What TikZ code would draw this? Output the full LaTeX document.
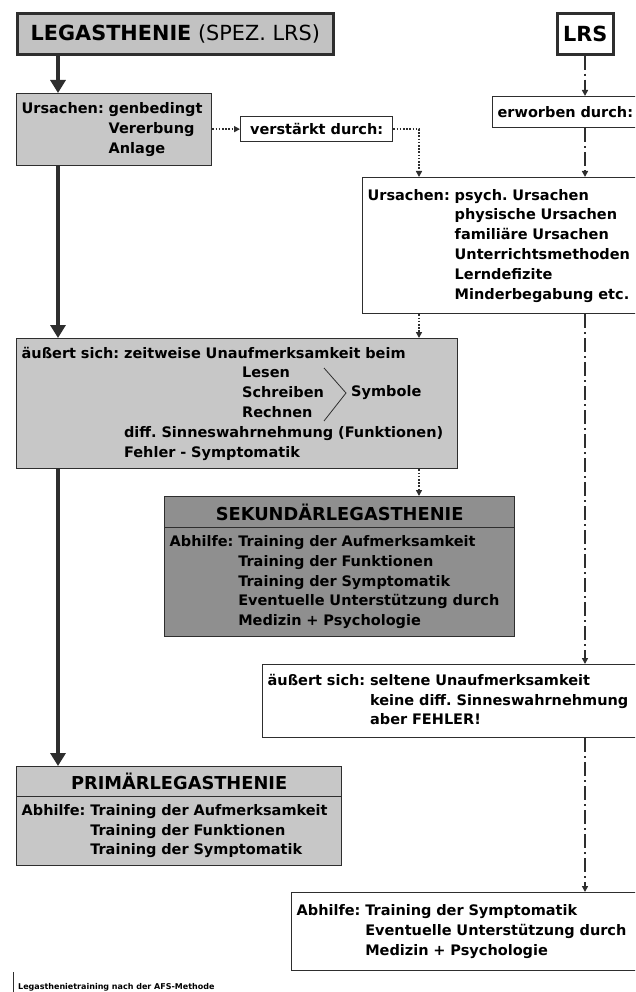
\documentclass[tikz,border=0pt]{standalone}
\usepackage{fontspec}
\setmainfont{DejaVu Sans}
\usetikzlibrary{arrows.meta,calc}
\definecolor{lightbox}{gray}{0.78}
\definecolor{titlebox}{gray}{0.76}
\definecolor{darkbox}{gray}{0.56}
\definecolor{rim}{gray}{0.18}
\newcommand{\bodyfont}{\fontsize{14.5}{19.8}\selectfont\bfseries}
\newcommand{\headfont}{\fontsize{17.8}{21}\selectfont\bfseries}
\newcommand{\titlefont}{\fontsize{20.8}{24}\selectfont}
\newcommand{\footfont}{\fontsize{8}{9}\selectfont\bfseries}
\frenchspacing
\begin{document}
\begin{tikzpicture}[x=1pt,y=-1pt,
  box/.style={draw=rim,line width=1.3pt,anchor=north west,inner xsep=5pt,inner ysep=0pt,align=left,font=\bodyfont},
  greybox/.style={box,fill=lightbox},
  headbox/.style={box,align=center,font=\headfont,inner xsep=0pt},
  bigbox/.style={draw=rim,line width=2.6pt,anchor=north west,inner sep=0pt,font=\titlefont},
  strong arrow/.style={draw=rim,line width=4.5pt,-{Triangle[length=13pt,width=15pt]}},
  dot arrow/.style={draw=rim,line width=1.8pt,dash pattern=on 1.6pt off 1.6pt,-{Triangle[length=6pt,width=6pt]}},
  dashdot arrow/.style={draw=rim,line width=1.8pt,dash pattern=on 14pt off 4pt on 2pt off 4pt,-{Triangle[length=6pt,width=6pt]}}]
\path[use as bounding box] (0,0) rectangle (635,992);
\clip (0,0) rectangle (635,992);
\coordinate (lx) at (58,0);
\coordinate (dx) at (419,0);
\coordinate (rx) at (585,0);
\node[bigbox,fill=titlebox,minimum width=316pt,minimum height=41pt] (title) at (16,12) {\textbf{LEGASTHENIE} (SPEZ. LRS)};
\node[bigbox,fill=white,minimum width=56pt,minimum height=41pt] (lrs) at (556,12) {\textbf{LRS}};
\node[greybox,text width=185pt,minimum height=72pt] (urs1) at (16,93)
  {\begin{tabular}{@{}l@{ }l@{}}Ursachen: & genbedingt\\ & Vererbung\\ & Anlage\end{tabular}};
\node[box,align=center,inner xsep=0pt,minimum width=152pt,minimum height=25pt] (verst) at (240,116) {verstärkt durch:};
\node[box,text width=148pt,minimum height=31pt] (erw) at (492,96) {erworben durch:};
\node[box,text width=279pt,minimum height=136pt] (urs2) at (362,177)
  {\begin{tabular}{@{}l@{ }l@{}}Ursachen: & psych. Ursachen\\ & physische Ursachen\\ & familiäre Ursachen\\
   & Unterrichtsmethoden\\ & Lerndefizite\\ & Minderbegabung etc.\end{tabular}};
\node[greybox,text width=431pt,minimum height=130pt] (aeus1) at (16,338)
  {\begin{tabular}{@{}l@{ }l@{}}äußert sich: & zeitweise Unaufmerksamkeit beim\\
   & \hspace{118pt}Lesen\\ & \hspace{118pt}Schreiben\\ & \hspace{118pt}Rechnen\\
   & diff. Sinneswahrnehmung (Funktionen)\\ & Fehler - Symptomatik\end{tabular}};
\node[font=\bodyfont,anchor=west,inner sep=0pt] (symb) at (351,393) {Symbole};
\draw[rim,line width=0.8pt] ($(symb.west)+(-27,-25)$) -- ($(symb.west)+(-5,0)$) -- ($(symb.west)+(-27,28)$);
\node[headbox,fill=darkbox,minimum width=350pt,minimum height=31pt] (sekhead) at (164,496) {SEKUNDÄRLEGASTHENIE};
\node[box,fill=darkbox,text width=340pt,minimum height=109pt] (sekbody) at (164,527)
  {\begin{tabular}{@{}l@{ }l@{}}Abhilfe: & Training der Aufmerksamkeit\\ & Training der Funktionen\\
   & Training der Symptomatik\\ & \makebox[269pt][s]{Eventuelle Unterstützung durch}\\ & Medizin + Psychologie\end{tabular}};
\node[box,text width=378pt,minimum height=73pt] (aeus2) at (262,664)
  {\begin{tabular}{@{}l@{ }l@{}}äußert sich: & seltene Unaufmerksamkeit\\ & keine diff. Sinneswahrnehmung\\ & aber FEHLER!\end{tabular}};
\node[headbox,fill=lightbox,minimum width=325pt,minimum height=30pt] (primhead) at (16,766) {PRIMÄRLEGASTHENIE};
\node[greybox,text width=315pt,minimum height=69pt] (primbody) at (16,796)
  {\begin{tabular}{@{}l@{ }l@{}}Abhilfe: & Training der Aufmerksamkeit\\ & Training der Funktionen\\ & Training der Symptomatik\end{tabular}};
\node[box,text width=349pt,minimum height=78pt] (abh) at (291,892)
  {\begin{tabular}{@{}l@{ }l@{}}Abhilfe: & Training der Symptomatik\\ & \makebox[269pt][s]{Eventuelle Unterstützung durch}\\ & Medizin + Psychologie\end{tabular}};
\node[font=\footfont,anchor=west,inner sep=0pt] (foot) at (18,987) {Legasthenietraining nach der AFS-Methode};
\draw[rim,line width=0.6pt] (foot.west) ++(-5,-15) -- ++(0,21);
\draw[strong arrow] (title.south -| lx) -- (urs1.north -| lx);
\draw[strong arrow] (urs1.south -| lx) -- (aeus1.north -| lx);
\draw[strong arrow] (aeus1.south -| lx) -- (primhead.north -| lx);
\draw[dot arrow] (urs1.east |- verst.west) -- (verst.west);
\draw[dot arrow] (verst.east) -| (urs2.north -| dx);
\draw[dot arrow] (urs2.south -| dx) -- (aeus1.north -| dx);
\draw[dot arrow] (aeus1.south -| dx) -- (sekhead.north -| dx);
\draw[dashdot arrow] (lrs.south -| rx) -- (erw.north -| rx);
\draw[dashdot arrow] (erw.south -| rx) -- (urs2.north -| rx);
\draw[dashdot arrow] (urs2.south -| rx) -- (aeus2.north -| rx);
\draw[dashdot arrow] (aeus2.south -| rx) -- (abh.north -| rx);
\end{tikzpicture}
\end{document}
